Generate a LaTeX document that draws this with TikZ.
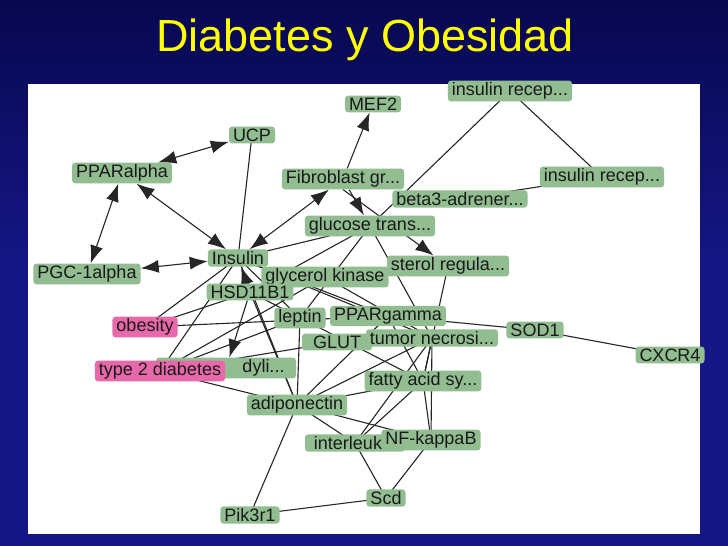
\documentclass[tikz,border=0pt]{standalone}
\usepackage{fontspec}
\setmainfont{Liberation Sans}
\usetikzlibrary{arrows.meta,backgrounds}
\definecolor{nodegreen}{RGB}{145,189,145}
\definecolor{nodepink}{RGB}{232,105,170}
\definecolor{slideblue}{RGB}{22,22,135}
\definecolor{slidedark}{RGB}{8,8,80}
\definecolor{titleyellow}{RGB}{255,255,0}
\tikzset{
  gn/.style={fill=nodegreen,rounded corners=3pt,inner xsep=4pt,inner ysep=2pt,font=\fontsize{18}{18}\selectfont,text=black!90},
  pn/.style={gn,fill=nodepink},
  ln/.style={draw=black!85,line width=1.1pt},
  ar/.style={ln,-{Latex[length=18pt,width=13pt]}},
  dar/.style={ln,{Latex[length=18pt,width=13pt]}-{Latex[length=18pt,width=13pt]}}
}
\begin{document}
\begin{tikzpicture}[x=1pt,y=-1pt]
\useasboundingbox (0,0) rectangle (728,546);
\node[font=\fontsize{45}{45}\selectfont,text=titleyellow] (title) at (365,40) {Diabetes y Obesidad};
% nodes (back to front)
\node[gn] (mef) at (373,104) {MEF2};
\node[gn] (irt) at (510,91) {insulin recep...};
\node[gn] (ucp) at (252,135) {UCP};
\node[gn] (ppara) at (122,173) {PPARalpha};
\node[gn] (fib) at (343,179) {Fibroblast gr...};
\node[gn] (irr) at (602,177) {insulin recep...};
\node[gn] (beta) at (460,199) {beta3-adrener...};
\node[gn] (glut4) at (370,226) {glucose trans...};
\node[gn] (pgc) at (87,274) {PGC-1alpha};
\node[gn] (gk) at (325,277) {glycerol kinase};
\node[gn] (ins) at (238,258) {Insulin};
\node[gn] (srebp) at (448,266) {sterol regula...};
\node[gn] (hsd) at (250,292) {HSD11B1};
\node[pn] (obes) at (145,327) {obesity};
\node[gn,minimum width=140pt,align=right] (phos) at (226,368) {\hspace*{75pt}dyli...};
\node[gn] (lep) at (300,318) {leptin};
\node[gn,minimum width=70pt] (glut) at (337,342) {GLUT};
\node[gn] (pparg) at (388,316) {PPARgamma};
\node[gn] (tnf) at (432,338) {tumor necrosi...};
\node[gn] (sod) at (535,330) {SOD1};
\node[gn] (cxcr) at (670,355) {CXCR4};
\node[pn] (t2d) at (160,371) {type 2 diabetes};
\node[gn] (fas) at (423,381) {fatty acid sy...};
\node[gn] (adipo) at (297,405) {adiponectin};
\node[gn,minimum width=100pt] (il) at (355,443) {interleukin};
\node[gn] (nfkb) at (431,440) {NF-kappaB};
\node[gn] (scd) at (386,498) {Scd};
\node[gn] (pik) at (250,515) {Pik3r1};
\begin{scope}[on background layer]
\shade[top color=slidedark,bottom color=slideblue,middle color=slideblue] (0,0) rectangle (728,546);
\fill[white] (28,84) rectangle (700,534);
% arrows
\draw[dar] (ppara) -- (ucp);
\draw[dar] (ppara) -- (ins);
\draw[dar] (ppara) -- (pgc);
\draw[dar] (pgc) -- (ins);
\draw[dar] (ins) -- (fib);
\draw[ar] (fib) -- (mef);
\draw[ar] (fib) -- (glut4);
\draw[ar] (fib.south) -- (srebp);
\draw[ar] (hsd) -- (ins);
\draw[ar] (hsd) -- (phos);
% plain lines
\draw[ln] (ucp.center) -- (ins.center);
\draw[ln] (ins.center) -- (glut4.center);
\draw[ln] (irt.center) -- (glut4.center);
\draw[ln] (irt.center) -- (irr.center);
\draw[ln] (beta.center) -- (irr.center);
\draw[ln] (ins.center) -- (obes.center);
\draw[ln] (ins.center) -- (t2d.center);
\draw[ln] (ins.center) -- (adipo.center);
\draw[ln] (ins.center) -- (pparg.center);
\draw[ln] (ins.center) -- (tnf.center);
\draw[ln] (ins.center) -- (lep.center);
\draw[ln] (glut4.center) -- (hsd.center);
\draw[ln] (glut4.center) -- (lep.center);
\draw[ln] (glut4.center) -- (tnf.center);
\draw[ln] (srebp.center) -- (gk.center);
\draw[ln] (srebp.center) -- (fas.center);
\draw[ln] (gk.center) -- (tnf.center);
\draw[ln] (gk.center) -- (t2d.center);
\draw[ln] (hsd.center) -- (obes.center);
\draw[ln] (hsd.center) -- (adipo.center);
\draw[ln] (hsd.center) -- (fas.center);
\draw[ln] (obes.center) -- (pparg.center);
\draw[ln] (t2d.center) -- (lep.center);
\draw[ln] (t2d.center) -- (glut.center);
\draw[ln] (t2d.center) -- (adipo.center);
\draw[ln] (lep.center) -- (adipo.center);
\draw[ln] (pparg.center) -- (sod.center);
\draw[ln] (sod.center) -- (cxcr.center);
\draw[ln] (pparg.center) -- (adipo.center);
\draw[ln] (pparg.center) -- (fas.center);
\draw[ln] (tnf.center) -- (adipo.center);
\draw[ln] (tnf.center) -- (il.center);
\draw[ln] (tnf.center) -- (nfkb.center);
\draw[ln] (tnf.center) -- (fas.center);
\draw[ln] (fas.center) -- (adipo.center);
\draw[ln] (fas.center) -- (nfkb.center);
\draw[ln] (fas.center) -- (il.center);
\draw[ln] (adipo.center) -- (il.center);
\draw[ln] (adipo.center) -- (nfkb.center);
\draw[ln] (adipo.center) -- (pik.center);
\draw[ln] (il.center) -- (scd.center);
\draw[ln] (nfkb.center) -- (scd.center);
\draw[ln] (scd.center) -- (pik.center);
\end{scope}
\end{tikzpicture}
\end{document}
